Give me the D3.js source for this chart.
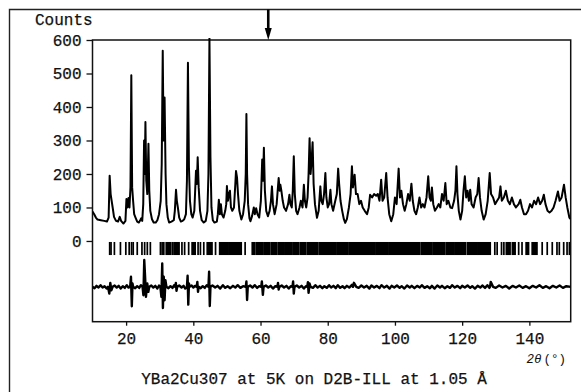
<!DOCTYPE html>
<html>
<head>
<meta charset="utf-8">
<script src="https://cdn.jsdelivr.net/npm/d3@7"></script>
<style>
  html, body { margin: 0; padding: 0; background: #fff; }
  svg { display: block; }
  text { font-family: "Liberation Mono", "DejaVu Sans Mono", monospace; fill: #111; }
</style>
</head>
<body>
<svg id="chart" width="581" height="392"></svg>
<script>
// ---------- data ----------
// observed / calculated profile: [2theta (deg), counts]
const profile2Theta = [10.0,10.5,11.0,11.5,12.5,13.5,14.3,14.8,15.1,15.4,15.7,16.0,16.4,17.0,17.6,18.1,18.5,19.2,19.8,20.1,20.4,20.7,21.0,21.3,21.55,21.8,22.1,22.4,22.8,23.3,23.8,24.2,24.5,24.8,25.1,25.35,25.55,25.75,26.0,26.3,26.65,26.9,27.2,27.7,28.2,28.8,29.3,29.8,30.3,30.6,30.9,31.15,31.45,31.75,32.0,32.4,32.8,33.5,34.2,34.5,34.85,35.1,35.4,35.8,36.3,36.8,37.3,37.8,38.1,38.4,38.7,39.0,39.4,39.8,40.3,40.8,41.05,41.3,41.6,42.0,42.5,43.1,43.7,44.2,44.5,44.8,45.1,45.4,45.8,46.3,47.0,47.3,47.6,47.9,48.2,48.5,49.0,49.5,49.8,50.0,50.3,50.6,50.9,51.2,51.6,52.1,52.5,52.7,53.0,53.3,53.7,54.3,54.8,55.3,55.6,55.8,56.0,56.3,56.7,57.0,57.5,58.0,58.3,58.7,59.1,59.6,60.1,60.5,60.75,61.0,61.3,61.7,62.2,62.7,63.1,63.4,63.7,64.2,64.8,65.1,65.4,65.7,65.9,66.2,66.6,67.0,67.6,68.2,68.6,68.9,69.3,69.6,69.9,70.2,70.6,71.0,71.6,72.0,72.5,72.9,73.2,73.6,74.0,74.3,74.6,74.9,75.2,75.5,75.8,76.2,76.8,77.3,77.8,78.1,78.5,78.9,79.3,79.6,80.0,80.4,80.8,81.1,81.6,82.2,82.7,83.1,83.4,83.8,84.3,84.8,85.2,85.7,86.3,86.8,87.2,87.5,88.0,88.4,88.9,89.4,89.9,90.4,91.0,91.7,92.2,92.6,93.2,93.8,94.4,94.9,95.4,95.9,96.3,96.8,97.4,97.8,98.3,98.9,99.5,100.0,100.5,101.1,101.5,101.9,102.4,102.9,103.4,103.9,104.4,104.9,105.3,105.8,106.3,106.8,107.3,107.8,108.3,108.8,109.4,109.9,110.3,110.7,111.0,111.4,111.9,112.5,113.0,113.5,114.0,114.5,115.0,115.4,115.9,116.5,117.0,117.6,118.0,118.3,118.6,119.0,119.5,120.0,120.4,120.8,121.2,121.6,122.0,122.4,122.8,123.4,124.0,124.5,124.9,125.3,125.8,126.4,127.0,127.6,128.2,128.6,129.2,129.8,130.4,131.0,131.4,131.8,132.4,133.0,133.6,134.2,134.8,135.4,136.0,136.8,137.3,137.8,138.4,139.0,139.6,140.2,140.8,141.4,142.0,142.6,143.2,143.8,144.3,144.8,145.4,146.0,146.6,147.2,147.8,148.5,149.0,149.6,150.3,150.8,151.3,151.9,152.3];
const profileCounts = [88,80,70,64,62,60,58,70,195,140,120,100,72,60,58,72,60,52,60,125,100,128,100,160,495,160,118,80,70,58,55,62,68,60,110,300,200,355,180,140,290,150,90,65,55,55,62,80,120,230,568,300,428,200,110,70,55,58,62,90,153,120,100,70,58,60,65,80,180,532,220,120,80,70,90,210,170,250,160,90,62,55,60,90,200,605,250,100,62,55,58,80,123,80,110,80,70,90,110,164,120,140,150,100,90,100,170,209,190,140,90,64,80,120,200,379,200,110,68,59,75,100,80,98,80,70,120,243,180,278,150,90,74,90,120,163,110,80,110,150,188,150,168,150,120,100,90,110,138,110,100,150,253,140,90,80,100,120,100,168,120,100,130,200,307,200,240,295,170,110,69,90,163,120,110,140,203,130,100,110,153,110,90,118,140,216,170,120,90,65,54,65,100,140,223,160,198,140,140,110,120,100,90,80,100,138,130,140,135,140,120,183,120,130,203,130,80,59,80,130,110,216,130,150,110,90,110,140,120,171,120,90,80,100,130,100,110,100,130,193,130,120,160,110,90,100,110,100,140,120,173,110,120,100,98,120,150,223,140,90,64,90,150,193,130,150,120,153,110,100,130,140,188,130,90,64,80,120,203,140,130,110,120,130,163,120,130,150,120,110,130,110,100,110,123,100,80,80,90,110,100,120,110,130,110,120,138,110,90,85,90,100,120,148,120,130,168,130,100,70,65];

// difference curve (obs - calc), plotted around an offset
const diffOffset = -137;
const diff2Theta = [10.0,10.6,11.2,11.8,12.4,13.0,13.6,14.2,14.6,15.0,15.3,15.6,16.0,16.6,17.2,17.8,18.4,19.0,19.6,20.2,20.7,21.2,21.45,21.7,21.9,22.1,22.7,23.3,23.9,24.4,24.9,25.15,25.4,25.7,25.9,26.3,26.6,26.9,27.5,28.1,28.7,29.3,29.8,30.2,30.5,30.75,30.95,31.2,31.45,31.7,32.0,32.6,33.2,33.8,34.3,34.6,34.8,35.0,35.2,35.8,36.5,37.1,37.6,38.1,38.3,38.5,38.7,38.9,39.5,40.0,40.5,41.0,41.2,41.4,41.6,42.2,42.8,43.4,44.0,44.5,44.7,44.9,45.1,45.7,46.5,47.2,48.0,48.8,49.5,50.2,51.0,51.8,52.5,53.2,54.0,54.8,55.6,55.8,56.0,56.2,56.9,57.6,58.3,59.0,59.6,60.2,60.4,60.7,60.9,61.6,62.3,63.0,63.7,64.4,65.0,65.2,65.4,65.6,66.3,67.0,67.7,68.4,69.0,69.5,69.7,69.9,70.1,70.8,71.5,72.2,72.9,73.5,73.9,74.1,74.3,74.6,74.9,75.6,76.3,77.0,77.7,78.4,79.0,79.7,80.4,81.0,81.7,82.4,83.0,83.7,84.4,85.0,85.7,86.4,87.2,87.5,87.8,88.5,89.2,90.0,90.8,91.6,92.4,93.0,93.8,94.6,95.4,96.0,96.8,97.6,98.4,99.0,99.8,100.6,101.4,102.0,102.8,103.6,104.4,105.0,105.8,106.6,107.4,108.0,108.8,109.6,110.4,111.0,111.8,112.6,113.4,114.0,114.8,115.6,116.4,117.0,117.8,118.6,119.4,120.0,120.8,121.6,122.4,123.0,123.8,124.6,125.4,126.0,126.8,127.5,128.1,128.3,128.5,129.2,130.0,131.0,132.0,133.0,134.0,135.0,136.0,137.0,138.0,139.0,140.0,141.0,142.0,143.0,144.0,145.0,146.0,147.0,148.0,149.0,150.0,151.0,152.3];
const diffCounts = [0,-4,3,-2,5,-2,2,-5,0,-20,12,-10,0,4,-2,3,-5,2,-3,5,-2,0,30,-58,10,0,-4,2,-3,5,0,-25,80,20,-30,10,-15,0,4,-2,3,-5,4,0,-30,70,-63,30,-40,20,0,-4,2,-3,5,0,12,-12,0,4,-2,3,-5,0,33,-53,10,0,4,-2,3,0,15,-15,0,-4,2,-3,5,0,45,-57,0,4,-2,3,-5,5,-3,2,-4,3,-2,5,-3,2,0,16,-39,0,4,-2,5,-3,2,0,16,-24,0,4,-2,3,-5,2,0,12,-8,0,4,-2,3,-5,2,0,16,-20,0,4,-2,3,-5,2,0,14,-18,10,0,-3,5,-2,3,-4,2,-3,5,-2,3,-4,5,-3,2,-4,3,-2,6,0,12,0,-3,4,-2,3,-5,4,-2,3,-4,5,-2,3,-5,3,-2,4,-3,2,-5,4,-2,3,-4,3,-2,5,-3,2,-4,3,-5,4,-2,3,-4,2,-3,5,-2,3,-4,3,-2,4,-3,2,-5,3,-2,4,-3,5,-3,0,15,0,-3,4,-2,3,-5,3,-2,4,-3,2,-4,3,-2,5,-3,2,-4,3,-2,4,-3,2,0];

// reflection positions: isolated ticks and dense groups of ticks [start, end]
const reflectionTicks = [15.1,15.5,16.5,18.3,19.9,20.9,21.6,22.1,23.3,24.7,25.5,26.3,27.2,30.2,30.7,31.2,33.7,36.6,37.4,38.6,41.4,42.1,43.1,46.6,55.4,129.7,130.4,131.7,132.4,136.8,137.8,143.8,145.3,146.8,148.2,148.9,150.2,151.2,151.9];
const reflectionBands = [[31.9,33.2],[34.2,35.8],[39.6,40.6],[44.1,45.6],[47.8,50.4],[50.7,54.3],[57.5,58.3],[58.7,60.8],[61.2,62.8],[63.2,64.8],[65.2,66.8],[67.2,69.2],[69.6,71.4],[71.8,73.5],[73.9,77.0],[77.4,82.4],[82.7,86.0],[86.3,90.0],[90.4,94.0],[94.3,98.0],[98.3,101.9],[102.3,107.4],[107.8,111.0],[111.3,114.8],[115.2,117.5],[117.8,121.0],[121.5,124.5],[124.8,128.4],[133.1,134.3],[134.9,135.8],[139.0,139.8],[140.8,142.3]];

const yTicks = [0,100,200,300,400,500,600];
const xTicks = [20,40,60,80,100,120,140];
const markerTheta = 62.3;   // arrow position
const yLabel = "Counts";
const xLabel = "2θ";
const xUnit = "(°)";
const caption = "YBa2Cu307 at 5K on D2B-ILL at 1.05 Å";

// ---------- drawing ----------
const svg = d3.select("#chart");
const L = 92.5, R = 570.7, T = 40, B = 321.7;
const x = d3.scaleLinear().domain([10, 152.3]).range([L, R]);
const y = d3.scaleLinear().domain([-241, 600]).range([B, T]);
const FS = 16, TW = 0.25;

// outer frame (left and top edges visible)
svg.append("path").attr("d", `M9.5,392 L9.5,9.5 L581,9.5`)
  .attr("fill", "none").attr("stroke", "#222").attr("stroke-width", 1.4);

// inner plot frame
svg.append("rect").attr("x", L).attr("y", T).attr("width", R - L).attr("height", B - T)
  .attr("fill", "none").attr("stroke", "#111").attr("stroke-width", 1.5);

// clip
svg.append("clipPath").attr("id", "clip").append("rect")
  .attr("x", L).attr("y", T - 2).attr("width", R - L).attr("height", B - T + 2);

const g = svg.append("g").attr("clip-path", "url(#clip)");

// profile
const profile = profile2Theta.map((t, i) => [t, profileCounts[i]]);
g.append("path").datum(profile)
  .attr("fill", "none").attr("stroke", "#000").attr("stroke-width", 2.0)
  .attr("stroke-linejoin", "round")
  .attr("d", d3.line().x(d => x(d[0])).y(d => y(d[1])));

// reflection ticks
const tickTop = -3, tickBot = -42;
g.selectAll(".rt").data(reflectionTicks).enter().append("rect")
  .attr("x", d => x(d) - 0.8).attr("width", 1.7)
  .attr("y", y(tickTop)).attr("height", y(tickBot) - y(tickTop))
  .attr("fill", "#000");
g.selectAll(".rb").data(reflectionBands).enter().append("rect")
  .attr("x", d => x(d[0]) - 0.7).attr("width", d => x(d[1]) - x(d[0]) + 1.4)
  .attr("y", y(tickTop)).attr("height", y(tickBot) - y(tickTop))
  .attr("fill", "#000");

// difference curve
const diff = diff2Theta.map((t, i) => [t, diffCounts[i] + diffOffset]);
g.append("path").datum(diff)
  .attr("fill", "none").attr("stroke", "#000").attr("stroke-width", 2.4)
  .attr("stroke-linejoin", "round")
  .attr("d", d3.line().x(d => x(d[0])).y(d => y(d[1])));

// axes
const yAxis = svg.append("g").attr("transform", `translate(${L},0)`)
  .call(d3.axisLeft(y).tickValues(yTicks).tickSize(6).tickPadding(5).tickFormat(d3.format("d")));
const xAxis = svg.append("g").attr("transform", `translate(0,${B})`)
  .call(d3.axisBottom(x).tickValues(xTicks).tickSize(4).tickPadding(7).tickFormat(d3.format("d")));
[yAxis, xAxis].forEach(a => {
  a.select(".domain").remove();
  a.selectAll("line").attr("stroke", "#111").attr("stroke-width", 1.3);
  a.selectAll("text").attr("font-family", "Liberation Mono, monospace")
    .attr("font-size", FS).attr("fill", "#111")
    .attr("stroke", "#111").attr("stroke-width", TW);
});

// labels
svg.append("text").attr("x", 35).attr("y", 25).attr("font-size", FS)
  .attr("stroke", "#111").attr("stroke-width", TW).text(yLabel);
const xl = svg.append("text").attr("x", 566).attr("y", 363).attr("text-anchor", "end")
  .attr("font-family", "DejaVu Sans, sans-serif").attr("font-size", 12.5);
xl.append("tspan").attr("font-style", "italic").text(xLabel);
xl.append("tspan").attr("dx", 2).text(xUnit);

svg.append("text").attr("x", 314).attr("y", 384).attr("text-anchor", "middle")
  .attr("font-size", FS).attr("stroke", "#111").attr("stroke-width", TW).text(caption);

// arrow marker at top
const ax = x(markerTheta);
svg.append("line").attr("x1", ax).attr("x2", ax).attr("y1", 9.5).attr("y2", 30)
  .attr("stroke", "#000").attr("stroke-width", 2.6);
svg.append("path").attr("d", `M${ax - 3.5},28 L${ax + 3.5},28 L${ax},${T} Z`).attr("fill", "#000");
</script>
</body>
</html>
